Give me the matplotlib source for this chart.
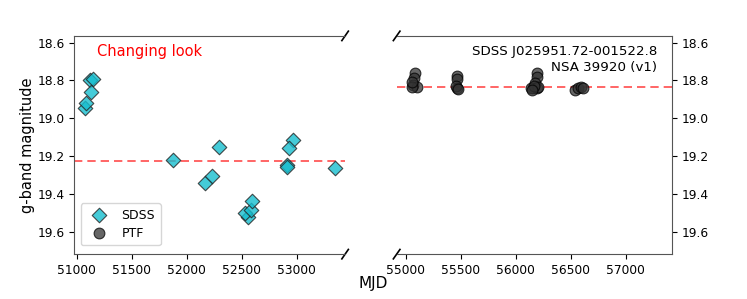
import matplotlib
matplotlib.use("Agg")
import matplotlib.pyplot as plt
import numpy as np

sdss_mjd = [51075, 51085, 51115, 51142, 51130, 51878, 52291, 52964, 52933, 52909, 52909,
            53351, 52166, 52227, 52555, 52525, 52585, 52591]
sdss_mag = [18.944, 18.921, 18.800, 18.791, 18.862, 19.217, 19.153, 19.112, 19.157, 19.244,
            19.258, 19.263, 19.341, 19.304, 19.520, 19.500, 19.483, 19.435]
sdss_median = 19.222

ptf_mjd = [55082, 55073, 55066, 55097, 55052, 55055,
           55461, 55466, 55466, 55455, 55473,
           56188, 56188, 56173, 56157, 56188, 56136, 56200, 56164, 56145,
           56536, 56566, 56597, 56609]
ptf_mag = [18.761, 18.788, 18.823, 18.832, 18.832, 18.807,
           18.776, 18.793, 18.841, 18.829, 18.845,
           18.761, 18.782, 18.814, 18.841, 18.841, 18.840, 18.834, 18.829, 18.850,
           18.850, 18.841, 18.832, 18.840]
ptf_median = 18.836

yticks = [18.6, 18.8, 19.0, 19.2, 19.4, 19.6]
left_xticks = [51000, 51500, 52000, 52500, 53000]
right_xticks = [55000, 55500, 56000, 56500, 57000]

fig = plt.figure(figsize=(7.47, 2.99), dpi=100)
ax1 = fig.add_axes([0.0997, 0.150, 0.3623, 0.730])
ax2 = fig.add_axes([0.531, 0.150, 0.369, 0.730])

ylim = (19.715, 18.565)
for ax in (ax1, ax2):
    ax.set_ylim(*ylim)
    ax.set_yticks(yticks)
    ax.set_yticklabels([f"{v:.1f}" for v in yticks])
    ax.tick_params(labelsize=8.8)
    for sp in ax.spines.values():
        sp.set_color("#555555")

ax1.set_xlim(50978, 53440)
ax2.set_xlim(54915, 57424)
ax1.set_xticks(left_xticks)
ax2.set_xticks(right_xticks)

ax1.spines["right"].set_visible(False)
ax2.spines["left"].set_visible(False)
ax2.yaxis.tick_right()

sd = ax1.scatter(sdss_mjd, sdss_mag, marker="D", s=55, color="#17becf", alpha=0.8,
                 edgecolors="#222222", linewidths=0.8, label="SDSS", zorder=3)
pt = ax2.scatter(ptf_mjd, ptf_mag, marker="o", s=60, color="#333333", alpha=0.75,
                 edgecolors="black", linewidths=0.8, label="PTF", zorder=3)
ax1.axhline(sdss_median, color="red", ls="--", lw=1.2, alpha=0.7, dashes=(5, 3))
ax2.axhline(ptf_median, color="red", ls="--", lw=1.2, alpha=0.7, dashes=(5, 3))

ax1.legend(handles=[sd, pt], labels=["SDSS", "PTF"], loc="lower left", fontsize=9,
           borderpad=0.45, handletextpad=0.8, labelspacing=0.4,
           bbox_to_anchor=(0.0, 0.012))

ax1.text(0.083, 0.93, "Changing look", color="red", fontsize=10.5, transform=ax1.transAxes,
         ha="left", va="center")
ax2.text(0.945, 0.93, "SDSS J025951.72-001522.8", fontsize=9.6, transform=ax2.transAxes,
         ha="right", va="center")
ax2.text(0.945, 0.855, "NSA 39920 (v1)", fontsize=9.6, transform=ax2.transAxes,
         ha="right", va="center")

ax1.set_ylabel("g-band magnitude", fontsize=10.5)
ax1.yaxis.set_label_coords(-0.146, 0.5)
fig.text(0.5, 0.053, "MJD", ha="center", va="center", fontsize=11)

d = 0.012
kw = dict(color="k", clip_on=False, lw=1.2)
ax1.plot((1 - d, 1 + d), (-d * 1.8, d * 1.8), transform=ax1.transAxes, **kw)
ax1.plot((1 - d, 1 + d), (1 - d * 1.8, 1 + d * 1.8), transform=ax1.transAxes, **kw)
ax2.plot((-d, d), (-d * 1.8, d * 1.8), transform=ax2.transAxes, **kw)
ax2.plot((-d, d), (1 - d * 1.8, 1 + d * 1.8), transform=ax2.transAxes, **kw)

fig.savefig("out.png", dpi=100)
